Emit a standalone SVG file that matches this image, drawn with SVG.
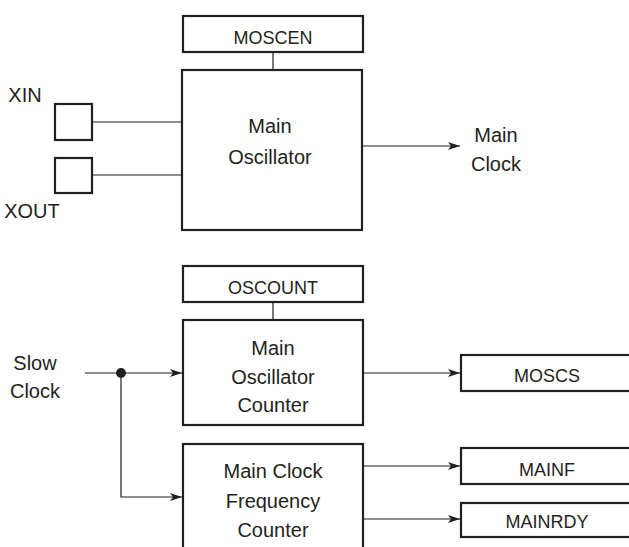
<svg xmlns="http://www.w3.org/2000/svg" width="629" height="547" viewBox="0 0 629 547">
<defs>
<style>
.box{fill:#fff;stroke:#231f20;stroke-width:2.2}
.ln{fill:none;stroke:#231f20;stroke-width:1.2}
.t{font-family:"Liberation Sans",Arial,sans-serif;font-size:20px;fill:#231f20;text-anchor:middle}
.s{font-family:"Liberation Sans",Arial,sans-serif;font-size:18px;fill:#231f20;text-anchor:middle}
</style>
<marker id="ah" viewBox="0 0 12 8" refX="12" refY="4" markerWidth="12" markerHeight="8" markerUnits="userSpaceOnUse" orient="auto">
<path d="M0,0 L12,4 L0,8 L3,4 Z" fill="#231f20"/>
</marker>
</defs>
<rect width="629" height="547" fill="#fff"/>
<g id="connectors">
<line class="ln" x1="273" y1="52" x2="273" y2="70"/>
<line class="ln" x1="92" y1="122" x2="182" y2="122"/>
<line class="ln" x1="92" y1="175" x2="182" y2="175"/>
<line class="ln" x1="362" y1="146" x2="460" y2="146" marker-end="url(#ah)"/>
<line class="ln" x1="273" y1="302" x2="273" y2="320"/>
<line class="ln" x1="85" y1="373" x2="182" y2="373" marker-end="url(#ah)"/>
<polyline class="ln" points="121,373 121,497 182,497" marker-end="url(#ah)"/>
<circle cx="121" cy="373" r="5" fill="#231f20"/>
<line class="ln" x1="363" y1="373" x2="460" y2="373" marker-end="url(#ah)"/>
<line class="ln" x1="363" y1="466" x2="460" y2="466" marker-end="url(#ah)"/>
<line class="ln" x1="363" y1="519" x2="460" y2="519" marker-end="url(#ah)"/>
</g>
<g id="moscen">
<rect class="box" x="183" y="16" width="180" height="36"/>
<text class="s" x="273" y="44">MOSCEN</text>
</g>
<g id="main-oscillator">
<rect class="box" x="182" y="70" width="180" height="160"/>
<text class="t" x="270" y="133">Main</text>
<text class="t" x="270" y="164">Oscillator</text>
</g>
<g id="xin">
<rect class="box" x="55" y="104" width="37" height="36"/>
<text class="t" x="25" y="102">XIN</text>
</g>
<g id="xout">
<rect class="box" x="55" y="158" width="37" height="35"/>
<text class="t" x="32" y="218">XOUT</text>
</g>
<g id="main-clock">
<text class="t" x="496" y="142">Main</text>
<text class="t" x="496" y="171">Clock</text>
</g>
<g id="oscount">
<rect class="box" x="183" y="266" width="180" height="36"/>
<text class="s" x="273" y="294">OSCOUNT</text>
</g>
<g id="main-oscillator-counter">
<rect class="box" x="183" y="320" width="180" height="105"/>
<text class="t" x="273" y="355">Main</text>
<text class="t" x="273" y="384">Oscillator</text>
<text class="t" x="273" y="412">Counter</text>
</g>
<g id="slow-clock">
<text class="t" x="35" y="370">Slow</text>
<text class="t" x="35" y="398">Clock</text>
</g>
<g id="main-clock-frequency-counter">
<rect class="box" x="183" y="444" width="180" height="120"/>
<text class="t" x="273" y="478">Main Clock</text>
<text class="t" x="273" y="508">Frequency</text>
<text class="t" x="273" y="537">Counter</text>
</g>
<g id="moscs">
<rect class="box" x="461" y="355" width="190" height="36"/>
<text class="s" x="547" y="382">MOSCS</text>
</g>
<g id="mainf">
<rect class="box" x="461" y="448" width="190" height="36"/>
<text class="s" x="547" y="476">MAINF</text>
</g>
<g id="mainrdy">
<rect class="box" x="461" y="503" width="190" height="34"/>
<text class="s" x="547" y="528">MAINRDY</text>
</g>
</svg>
